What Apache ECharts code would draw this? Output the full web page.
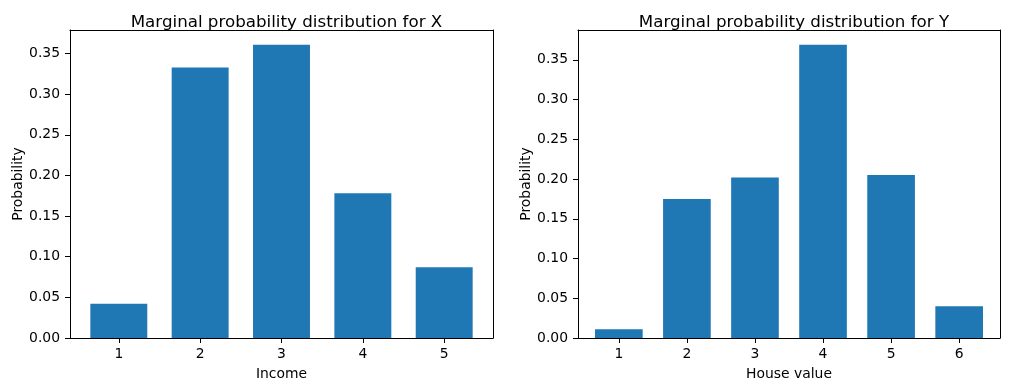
<!DOCTYPE html>
<html>
<head>
<meta charset="utf-8">
<script src="https://cdn.jsdelivr.net/npm/echarts@6/dist/echarts.min.js"></script>
<style>
html,body{margin:0;padding:0;background:#fff;}
#chart{width:1010px;height:391px;}
</style>
</head>
<body>
<div id="chart"></div>
<script>
// ---- data ----
var incomeCategories = [1, 2, 3, 4, 5];
var incomeProb = [0.042, 0.333, 0.361, 0.178, 0.087];
var houseCategories = [1, 2, 3, 4, 5, 6];
var houseProb = [0.011, 0.175, 0.202, 0.369, 0.205, 0.040];
var yTicks = [0, 0.05, 0.10, 0.15, 0.20, 0.25, 0.30, 0.35];
var titles = ['Marginal probability distribution for X', 'Marginal probability distribution for Y'];
var xNames = ['Income', 'House value'];
var yName = 'Probability';

var BAR_W = 0.7;
var FONT = 'DejaVu Sans';
var BLUE = '#1f77b4';

function pairs(cats, vals) {
  return cats.map(function (c, i) { return [c, vals[i]]; });
}

function renderBar(params, api) {
  var x = api.value(0), y = api.value(1);
  var p0 = api.coord([x - BAR_W / 2, y]);
  var p1 = api.coord([x + BAR_W / 2, 0]);
  return {
    type: 'rect',
    shape: { x: p0[0], y: p0[1], width: p1[0] - p0[0], height: p1[1] - p0[1] },
    style: { fill: BLUE }
  };
}

var grids = [
  { left: 70, top: 30, width: 423, height: 308 },
  { left: 578, top: 30, width: 422, height: 308 }
];
var cats = [incomeCategories, houseCategories];
var vals = [incomeProb, houseProb];

var axisLabelStyle = { color: '#000', fontFamily: FONT, fontSize: 13.9 };
var spine = { show: true, onZero: false, lineStyle: { color: '#000', width: 1 } };

function xRange(i) { var c = cats[i]; return [0.4, c[c.length - 1] + 0.6]; }
function yMax(i) { return Math.max.apply(null, vals[i]) * 1.05; }

var xAxes = [], yAxes = [];
[0, 1].forEach(function (i) {
  var c = cats[i], r = xRange(i);
  xAxes.push({
    type: 'value', gridIndex: i, position: 'bottom',
    min: r[0], max: r[1],
    name: xNames[i], nameLocation: 'middle', nameGap: 29,
    nameTextStyle: { color: '#000', fontFamily: FONT, fontSize: 13.9 },
    axisLine: spine,
    axisTick: { show: true, length: 5, lineStyle: { color: '#000', width: 1 }, customValues: c },
    axisLabel: Object.assign({ margin: 9, customValues: c, formatter: function (v) { return String(v); } }, axisLabelStyle),
    splitLine: { show: false }
  });
  yAxes.push({
    type: 'value', gridIndex: i, position: 'left',
    min: 0, max: yMax(i),
    name: yName, nameLocation: 'middle', nameGap: 45,
    nameTextStyle: { color: '#000', fontFamily: FONT, fontSize: 13.9 },
    axisLine: spine,
    axisTick: { show: true, length: 5, lineStyle: { color: '#000', width: 1 }, customValues: yTicks },
    axisLabel: Object.assign({ margin: 10, customValues: yTicks, formatter: function (v) { return v.toFixed(2); } }, axisLabelStyle),
    splitLine: { show: false }
  });
});
// top / right spines
[0, 1].forEach(function (i) {
  var r = xRange(i);
  xAxes.push({
    type: 'value', gridIndex: i, position: 'top', min: r[0], max: r[1],
    axisLine: spine, axisTick: { show: false }, axisLabel: { show: false }, splitLine: { show: false }
  });
  yAxes.push({
    type: 'value', gridIndex: i, position: 'right', min: 0, max: yMax(i),
    axisLine: spine, axisTick: { show: false }, axisLabel: { show: false }, splitLine: { show: false }
  });
});

var option = {
  backgroundColor: '#fff',
  animation: false,
  title: titles.map(function (t, i) {
    return {
      text: t,
      left: grids[i].left + grids[i].width / 2,
      top: 9,
      textAlign: 'center',
      textStyle: { color: '#000', fontFamily: FONT, fontSize: 16.7, fontWeight: 'normal' }
    };
  }),
  grid: grids.map(function (g) {
    return { left: g.left, top: g.top, width: g.width, height: g.height, show: false };
  }),
  xAxis: xAxes,
  yAxis: yAxes,
  series: [0, 1].map(function (i) {
    return {
      type: 'custom',
      xAxisIndex: i,
      yAxisIndex: i,
      renderItem: renderBar,
      encode: { x: 0, y: 1 },
      data: pairs(cats[i], vals[i])
    };
  })
};

var chart = echarts.init(document.getElementById('chart'), null, { renderer: 'canvas' });
chart.setOption(option);
</script>
</body>
</html>
